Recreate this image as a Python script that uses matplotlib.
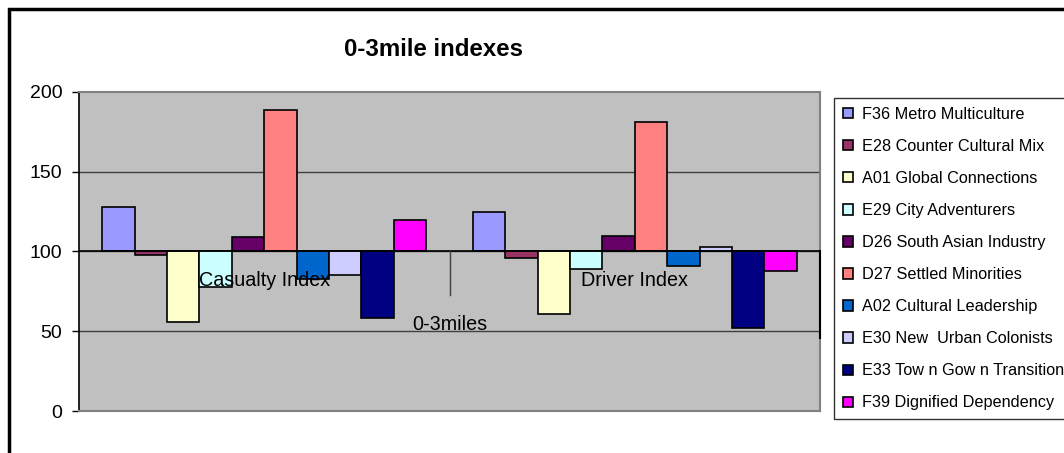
import numpy as np
import matplotlib
matplotlib.use('Agg')
import matplotlib.pyplot as plt
from matplotlib.patches import Rectangle

plt.rcParams['font.family'] = ['Liberation Sans', 'DejaVu Sans']

categories = ['Casualty Index', 'Driver Index']
series = ['F36 Metro Multiculture', 'E28 Counter Cultural Mix', 'A01 Global Connections',
          'E29 City Adventurers', 'D26 South Asian Industry', 'D27 Settled Minorities',
          'A02 Cultural Leadership', 'E30 New  Urban Colonists', 'E33 Tow n Gow n Transition',
          'F39 Dignified Dependency']
casualty = [128, 98, 56, 78, 109, 189, 83, 85, 58, 120]
driver = [125, 96, 61, 89, 110, 181, 91, 103, 52, 88]
colors = ['#9999FF', '#993366', '#FFFFCC', '#CCFFFF', '#660066',
          '#FF8080', '#0066CC', '#CCCCFF', '#000080', '#FF00FF']

W, H = 1064, 453
fig = plt.figure(figsize=(W / 100, H / 100), dpi=100)
ax = fig.add_axes([79 / W, 1 - 411 / H, (820 - 79) / W, (411 - 92) / H])
ax.set_facecolor('#C0C0C0')

base = 100
bw = 0.0874
n = len(series)
for j in range(n):
    vals = [casualty[j], driver[j]]
    for i in range(len(categories)):
        x = i + 0.5 + (j - (n - 1) / 2) * bw
        ax.bar(x, vals[i] - base, bottom=base, width=bw, color=colors[j],
               edgecolor='black', linewidth=1.2, zorder=3,
               label=series[j] if i == 0 else None)

ax.set_xlim(0, 2)
ax.set_ylim(0, 200)
ax.set_yticks([0, 50, 100, 150, 200])
ax.set_xticks([])
ax.tick_params(axis='y', labelsize=14, length=5, width=1, pad=7)
for y in [50, 100, 150]:
    ax.axhline(y, color='#404040', linewidth=1, zorder=1)
ax.axhline(100, color='black', linewidth=1.2, zorder=4)
for s in ['top', 'right', 'bottom']:
    ax.spines[s].set_color('#808080')
    ax.spines[s].set_linewidth(1.5)
ax.spines['left'].set_linewidth(1.2)

# category axis ticks below the crossing line
ax.plot([1, 1], [100, 73], color='#404040', linewidth=1, zorder=4)
ax.plot([2, 2], [100, 46], color='black', linewidth=1.5, zorder=4, clip_on=False)

for i, c in enumerate(categories):
    ax.text(i + 0.5, 82, c, ha='center', va='center', fontsize=14.2, zorder=5)
ax.text(1.0, 54.5, '0-3miles', ha='center', va='center', fontsize=14.2, zorder=5)

fig.text(434 / W, 1 - 50 / H, '0-3mile indexes', ha='center', va='center',
         fontsize=17.3, fontweight='bold')

leg = fig.legend(loc='upper left', bbox_to_anchor=(834 / W, 1 - 98 / H),
                 fontsize=11.7, frameon=True, fancybox=False, edgecolor='black',
                 handlelength=0.6, handleheight=0.6, handletextpad=0.6,
                 labelspacing=1.05, borderpad=0.55, borderaxespad=0)
leg.get_frame().set_linewidth(1)

fig.patches.append(Rectangle((9 / W, -0.1), 1.2, 1 - 9 / H + 0.1, transform=fig.transFigure,
                             fill=False, edgecolor='black', linewidth=2.5))

fig.savefig('out.png', dpi=100)
